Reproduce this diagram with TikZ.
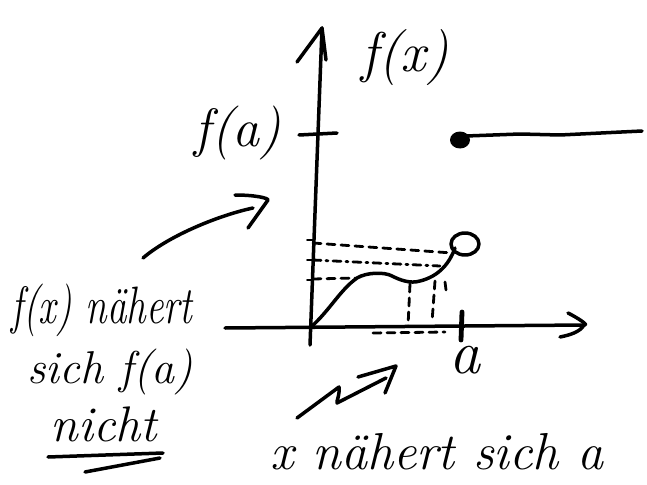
\documentclass[tikz,border=0pt]{standalone}
\usepackage{fontspec}
\usepackage{graphicx}
\usetikzlibrary{calc}
\tikzset{
  pen/.style={line width=3.5pt, line cap=round, line join=round},
  dsh/.style={pen, line width=2.8pt, dash pattern=on 8pt off 6pt},
  dshdot/.style={pen, line width=2.8pt, dash pattern=on 8pt off 5pt on 2pt off 5pt},
  hand/.style={font=\itshape\fontsize{36}{38}\selectfont, inner sep=0pt},
  fs/.style={font=\itshape\fontsize{#1}{#1}\selectfont},
}
\begin{document}
\begin{tikzpicture}[x=1pt,y=-1pt]
\useasboundingbox (0,0) rectangle (647,484);
% axes
\coordinate (o) at (311,327);
\coordinate (ytop) at (322,28);
\coordinate (xend) at (584,325);
\draw[pen] (310,345) -- (ytop);
\draw[pen] (297,62) -- (ytop) -- (326,60);
\draw[pen] (225,328) -- (xend);
\draw[pen] (568,313) .. controls (578,318) and (590,326) .. (xend) .. controls (580,332) and (570,335) .. (560,337);
% ticks
\draw[pen] (299,135) -- (337,133);
\draw[pen, line width=4.8pt] (462,312) -- (461,340);
% jump: filled dot and line
\fill (460,140) ellipse (10 and 8.5);
\draw[pen] (466,136) -- (520,134) -- (560,135) -- (642,131);
% curve
\draw[pen] (o) .. controls (330,310) and (340,290) .. (357,278)
  .. controls (367,272) and (385,272) .. (392,276)
  .. controls (400,280) and (410,284) .. (420,281)
  .. controls (440,276) and (450,262) .. (455,248);
\draw[pen] (465,244) ellipse (14 and 11);
% dashed helper lines
\draw[dsh] (313,243) -- (452,253);
\draw[dshdot] (313,260) -- (440,266);
\draw[dsh] (313,279) -- (355,278);
\draw[dsh] (410,284) -- (408,326);
\draw[dsh] (435,281) -- (432,322);
\draw[dsh] (445,282) -- (446,290);
\draw[dsh] (373,333) -- (445,332);
\draw[pen, line width=2pt] (307,240) -- (313,240) (307,260) -- (313,260) (307,280) -- (313,280);
% labels
\node[hand, fs=56] (fx) at (405,58) {f(x)};
\node[hand, fs=54] (fa) at (238,133) {f(a)};
\node[hand, fs=62] (a) at (465,360) {a};
\node[hand, fs=39] (t1) at (102,310) {\scalebox{1}[1.35]{f(x) nähert}};
\node[hand, fs=46] (t2) at (110,372) {sich f(a)};
\node[hand, fs=50] (t3) at (104,424) {nicht};
\draw[pen] (48,457) -- (163,453);
\draw[pen] (85,472) -- (160,458);
\node[hand, fs=52] (t4) at (437,452) {x nähert sich a};
% arrows
\coordinate (tip1) at (268,200);
\draw[pen] (143,258) .. controls (170,235) and (220,215) .. (253,208);
\draw[pen] (235,195) .. controls (255,195) and (268,198) .. (tip1) -- (248,228);
\coordinate (tip2) at (396,366);
\draw[pen] (297,418) -- (339,387) .. controls (340,395) and (336,402) .. (337,403) -- (386,378);
\draw[pen] (358,377) -- (tip2) -- (385,393);
\end{tikzpicture}
\end{document}
